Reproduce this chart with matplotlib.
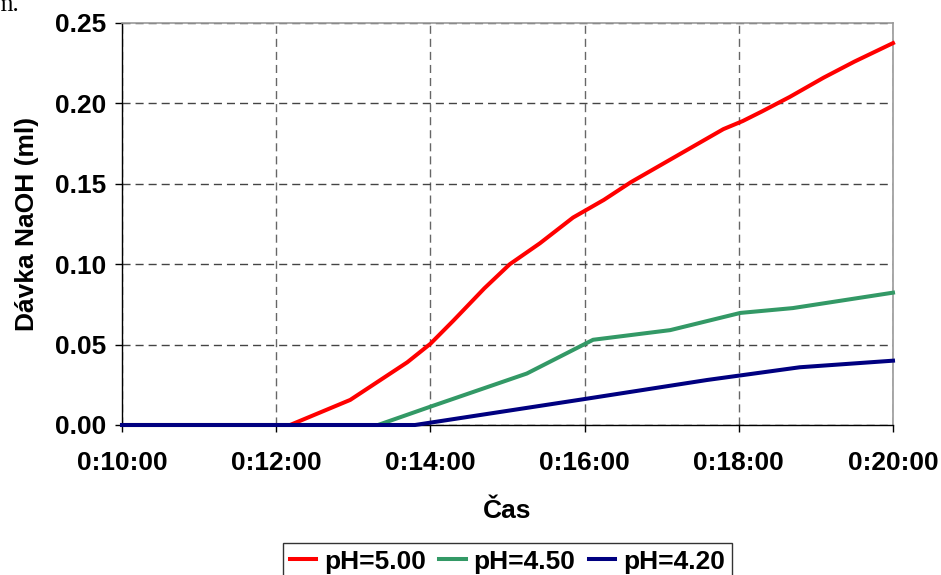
import matplotlib
matplotlib.use("Agg")
import matplotlib.pyplot as plt
from matplotlib.ticker import FuncFormatter, MultipleLocator

# Elapsed time in minutes and NaOH dose (ml) for each pH set-point
red_t = [10.0, 12.18, 12.96, 13.70, 14.0, 14.3, 14.7, 15.03, 15.42, 15.85, 16.25,
         16.6, 17.0, 17.4, 17.8, 18.05, 18.3, 18.66, 19.1, 19.5, 20.0]
red_v = [0.0, 0.0, 0.0156, 0.039, 0.0505, 0.065, 0.085, 0.100, 0.113, 0.129, 0.140,
         0.151, 0.162, 0.173, 0.184, 0.189, 0.195, 0.204, 0.216, 0.226, 0.2375]

green_t = [10.0, 13.32, 14.0, 15.25, 16.11, 17.11, 18.02, 18.7, 20.0]
green_v = [0.0, 0.0, 0.0114, 0.032, 0.053, 0.059, 0.0697, 0.0727, 0.0823]

blue_t = [10.0, 13.8, 15.98, 17.59, 18.79, 20.0]
blue_v = [0.0, 0.0, 0.016, 0.028, 0.0359, 0.040]

series_labels = ["pH=5.00", "pH=4.50", "pH=4.20"]
x_label = "Čas"
y_label = "Dávka NaOH (ml)"

W, H = 941, 575
plt.rcParams["font.family"] = ["Liberation Sans", "DejaVu Sans"]
plt.rcParams["font.weight"] = "bold"
FS = 19

fig = plt.figure(figsize=(W / 100, H / 100), dpi=100)
ax = fig.add_axes([122 / W, 1 - 425 / H, (893 - 122) / W, (425 - 23) / H])

lw = 2.9
l1, = ax.plot(red_t, red_v, color="#FF0000", lw=lw, clip_on=False, zorder=3)
l2, = ax.plot(green_t, green_v, color="#339966", lw=lw, clip_on=False, zorder=4)
l3, = ax.plot(blue_t, blue_v, color="#000080", lw=lw, clip_on=False, zorder=5)

ax.set_xlim(10, 20)
ax.set_ylim(0, 0.25)
ax.xaxis.set_major_locator(MultipleLocator(2))
ax.yaxis.set_major_locator(MultipleLocator(0.05))
ax.xaxis.set_major_formatter(FuncFormatter(lambda v, p: f"0:{int(round(v)):02d}:00"))
ax.yaxis.set_major_formatter(FuncFormatter(lambda v, p: f"{v:.2f}"))

dash = (0, (5.8, 3.6))
ax.grid(True, axis="x", color="#666666", lw=1.0, linestyle=dash, zorder=1)
ax.grid(True, axis="y", color="#444444", lw=1.0, linestyle=dash, zorder=1)
ax.set_axisbelow(True)

for side in ("top", "right"):
    ax.spines[side].set_color("#999999")
    ax.spines[side].set_linewidth(1.2)
for side in ("left", "bottom"):
    ax.spines[side].set_color("black")
    ax.spines[side].set_linewidth(1.0)

ax.tick_params(axis="both", direction="out", length=5, width=1, color="black",
               labelsize=FS)
ax.tick_params(axis="y", pad=6)
ax.tick_params(axis="x", pad=14)
for lab in ax.get_xticklabels() + ax.get_yticklabels():
    lab.set_fontweight("bold")

ax.set_xlabel(x_label, fontsize=FS, fontweight="bold", labelpad=17)
ax.set_ylabel(y_label, fontsize=FS, fontweight="bold", labelpad=12)

leg = fig.legend([l1, l2, l3], series_labels, loc="upper center",
                 bbox_to_anchor=(507.5 / W, 1 - 543 / H), ncol=3,
                 prop={"size": FS, "weight": "bold"}, frameon=True, fancybox=False,
                 handlelength=1.0, handletextpad=0.3, columnspacing=0.5,
                 borderpad=0.25, borderaxespad=0)
leg.get_frame().set_edgecolor("black")
leg.get_frame().set_linewidth(1.0)

fig.text(-7 / W, 1 - 11 / H, "m.", fontsize=18, fontweight="normal",
         family=["Liberation Serif", "DejaVu Serif"], va="baseline", ha="left")

fig.savefig("out.png", dpi=100)
